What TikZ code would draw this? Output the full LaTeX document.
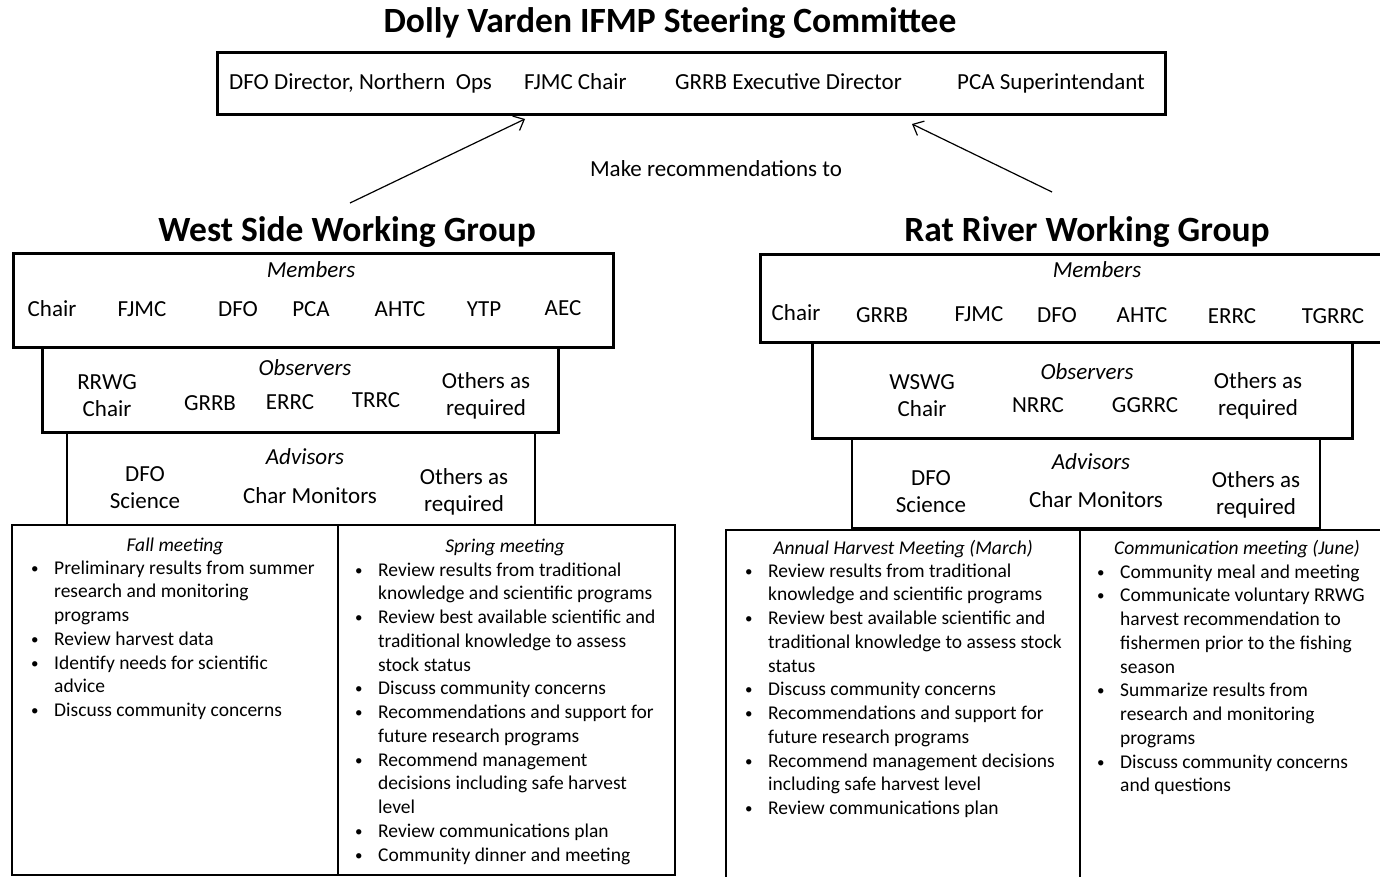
\documentclass[tikz,border=0pt]{standalone}
\usepackage{fontspec}
\setmainfont{Carlito}
\usetikzlibrary{arrows.meta}

\newcommand\bul{\makebox[23pt][l]{\raisebox{1pt}{\fontsize{15}{15}\selectfont\textbullet}}}
\newcommand\cont{\hspace*{23pt}}

\begin{document}
\begin{tikzpicture}[x=1pt, y=-1pt,
    heading/.style={font=\fontsize{35.5}{40}\selectfont\bfseries, anchor=base, inner sep=0},
    txt/.style={font=\fontsize{23}{27}\selectfont, anchor=base, inner sep=0, align=center},
    grouplabel/.style={font=\fontsize{23}{27}\selectfont\itshape, anchor=base, inner sep=0},
    bigbox/.style={draw, line width=3pt, inner sep=0, outer sep=0},
    advbox/.style={draw, line width=2.5pt, inner sep=0, outer sep=0},
    listbox/.style={draw, line width=1.8pt, inner sep=0, outer sep=0},
    listhead/.style={font=\fontsize{19.5}{23.75}\selectfont\itshape, anchor=base, inner sep=0},
    items/.style={font=\fontsize{19.5}{23.75}\selectfont, anchor=base west, inner sep=0, align=left},
    rec/.style={line width=1.2pt, -{Straight Barb[length=9pt,width=16pt]}}]
  \useasboundingbox (0,0) rectangle (1380,877);

  % steering committee
  \path
  (670,33) node[heading](sctitle){Dolly Varden IFMP Steering Committee}
  (691,84) node[bigbox, minimum width=948, minimum height=62](sc){}
  (229,90) node[txt, anchor=base west](scdfo){DFO Director, Northern\ \ Ops}
  (524,90) node[txt, anchor=base west](scfjmc){FJMC Chair}
  (675,90) node[txt, anchor=base west](scgrrb){GRRB Executive Director}
  (957,90) node[txt, anchor=base west](scpca){PCA Superintendant}
  (716,177) node[txt](makerec){Make recommendations to};

  % west side working group
  \path
  (347,242) node[heading](wtitle){West Side Working Group}
  (313,300) node[bigbox, minimum width=600, minimum height=94](wmem){}
  (300,389.5) node[bigbox, minimum width=516, minimum height=85](wobs){}
  (301,478.5) node[advbox, minimum width=468, minimum height=93](wadv){}
  (175,700) node[listbox, minimum width=326, minimum height=350](wfall){}
  (506.5,700) node[listbox, minimum width=337, minimum height=350](wspring){};

  \path
  (311,277) node[grouplabel](wmemlabel){Members}
  (52,316) node[txt](wchair){Chair}
  (142,316) node[txt](wfjmc){FJMC}
  (238,316) node[txt](wdfo){DFO}
  (311,316) node[txt](wpca){PCA}
  (400,316) node[txt](wahtc){AHTC}
  (484,316) node[txt](wytp){YTP}
  (563,315) node[txt](waec){AEC};

  % two-line nodes sit on their last line
  \path
  (305,375) node[grouplabel](wobslabel){Observers}
  (107,416) node[txt](wrrwg){RRWG\\Chair}
  (210,410) node[txt](wgrrb){GRRB}
  (290,409) node[txt](werrc){ERRC}
  (376,407) node[txt](wtrrc){TRRC}
  (486,415) node[txt](wothobs){Others as\\required};

  \path
  (305,464) node[grouplabel](wadvlabel){Advisors}
  (145,508) node[txt](wdfosci){DFO\\Science}
  (310,503) node[txt](wmon){Char Monitors}
  (464,511) node[txt](wothadv){Others as\\required};

  \path
  (175,551) node[listhead](wfallhead){Fall meeting}
  (31,716.5) node[items](wfallitems){%
    \bul Preliminary results from summer\\
    \cont research and monitoring\\
    \cont programs\\
    \bul Review harvest data\\
    \bul Identify needs for scientific\\
    \cont advice\\
    \bul Discuss community concerns}
  (505,552) node[listhead](wspringhead){Spring meeting}
  (355,861) node[items](wspringitems){%
    \bul Review results from traditional\\
    \cont knowledge and scientific programs\\
    \bul Review best available scientific and\\
    \cont traditional knowledge to assess\\
    \cont stock status\\
    \bul Discuss community concerns\\
    \bul Recommendations and support for\\
    \cont future research programs\\
    \bul Recommend management\\
    \cont decisions including safe harvest\\
    \cont level\\
    \bul Review communications plan\\
    \bul Community dinner and meeting};

  % rat river working group
  \path
  (1087,242) node[heading](rtitle){Rat River Working Group}
  (1072,298) node[bigbox, minimum width=624, minimum height=88](rmem){}
  (1082,390) node[bigbox, minimum width=540, minimum height=96](robs){}
  (1086,483) node[advbox, minimum width=468, minimum height=90](radv){}
  (903,706) node[listbox, minimum width=354, minimum height=352](rannual){}
  (1232,706) node[listbox, minimum width=304, minimum height=352](rcomm){};

  \path
  (1097,277) node[grouplabel](rmemlabel){Members}
  (796,320) node[txt](rchair){Chair}
  (882,322) node[txt](rgrrb){GRRB}
  (979,321) node[txt](rfjmc){FJMC}
  (1057,322) node[txt](rdfo){DFO}
  (1142,322) node[txt](rahtc){AHTC}
  (1232,323) node[txt](rerrc){ERRC}
  (1333,323) node[txt](rtgrrc){TGRRC};

  \path
  (1087,379) node[grouplabel](robslabel){Observers}
  (922,416) node[txt](rwswg){WSWG\\Chair}
  (1038,412) node[txt](rnrrc){NRRC}
  (1145,412) node[txt](rggrrc){GGRRC}
  (1258,415) node[txt](rothobs){Others as\\required};

  \path
  (1091,469) node[grouplabel](radvlabel){Advisors}
  (931,512) node[txt](rdfosci){DFO\\Science}
  (1096,507) node[txt](rmon){Char Monitors}
  (1256,514) node[txt](rothadv){Others as\\required};

  \path
  (903,554) node[listhead](rannualhead){Annual Harvest Meeting (March)}
  (745,814.5) node[items](rannualitems){%
    \bul Review results from traditional\\
    \cont knowledge and scientific programs\\
    \bul Review best available scientific and\\
    \cont traditional knowledge to assess stock\\
    \cont status\\
    \bul Discuss community concerns\\
    \bul Recommendations and support for\\
    \cont future research programs\\
    \bul Recommend management decisions\\
    \cont including safe harvest level\\
    \bul Review communications plan}
  (1237,554) node[listhead](rcommhead){Communication meeting (June)}
  (1097,791.75) node[items](rcommitems){%
    \bul Community meal and meeting\\
    \bul Communicate voluntary RRWG\\
    \cont harvest recommendation to\\
    \cont fishermen prior to the fishing\\
    \cont season\\
    \bul Summarize results from\\
    \cont research and monitoring\\
    \cont programs\\
    \bul Discuss community concerns\\
    \cont and questions};

  % recommendations
  \coordinate (wtail) at (350,203);
  \coordinate (wtip) at (525,119);
  \coordinate (rtail) at (1052,192);
  \coordinate (rtip) at (912,124);
  \draw[rec] (wtail) -- (wtip);
  \draw[rec] (rtail) -- (rtip);
\end{tikzpicture}
\end{document}
